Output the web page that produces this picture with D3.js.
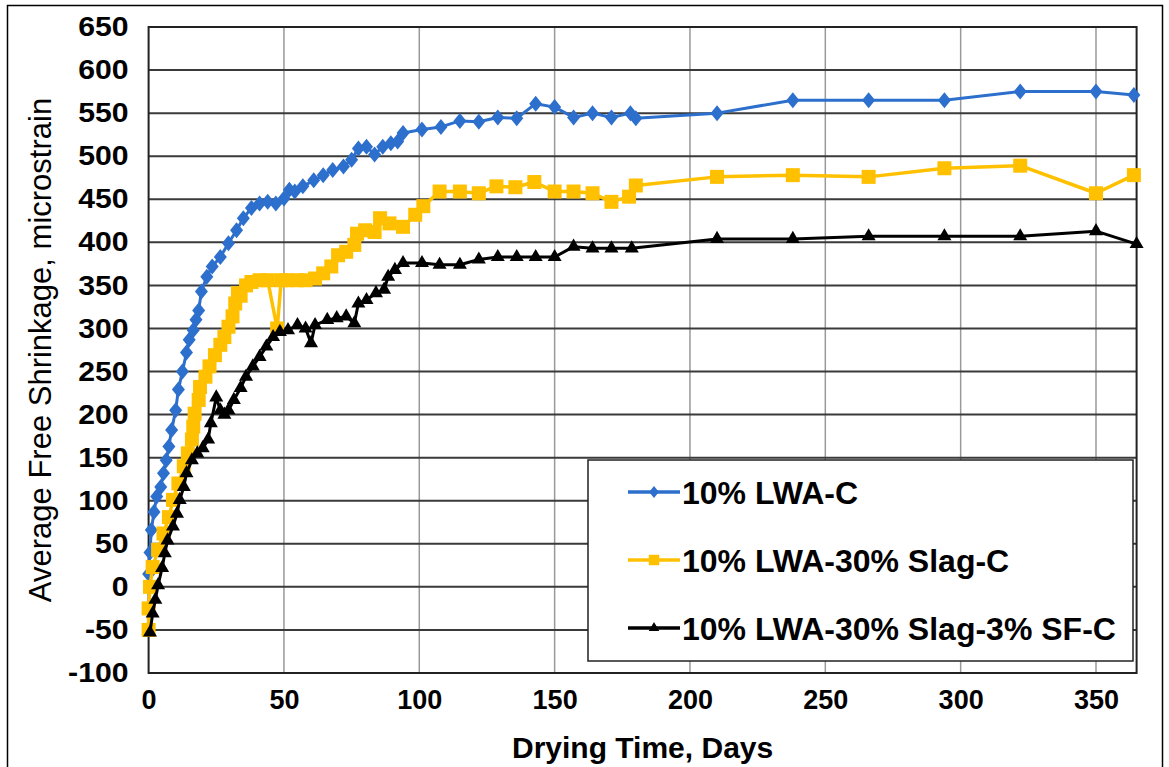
<!DOCTYPE html>
<html>
<head>
<meta charset="utf-8">
<script src="https://cdn.jsdelivr.net/npm/d3@7"></script>
<style>
  body { margin: 0; background: #fff; }
  text { font-family: Arial, "Liberation Sans", sans-serif; }
</style>
</head>
<body>
<svg id="chart" width="1169" height="767"></svg>
<script>
// series data: [day, microstrain]
const lwaC = [
  [0, 15], [0.5, 40], [1, 66], [2, 87], [3, 105], [4.5, 116], [5.5, 132], [6.5, 147],
  [7.5, 163], [8.5, 182], [10, 205], [11, 229], [12.5, 250], [14, 272], [15, 287],
  [16.5, 298], [17.5, 310], [18.5, 321], [19.5, 343], [21.5, 360], [23.5, 372],
  [26.5, 383], [29.5, 399], [32.5, 414], [35, 428], [38, 440], [41, 445], [44, 447],
  [47, 445], [50, 451], [52, 461], [54, 459], [57, 465], [61, 472], [64.5, 478],
  [68, 484], [72, 488], [75, 496], [77.5, 509], [80.5, 511], [83.5, 502], [86.5, 511],
  [89.5, 515], [92, 517], [94, 527], [101, 531], [108, 534], [115, 541], [122, 540],
  [129, 545], [136, 544], [143, 561], [150, 557], [157, 545], [164, 550], [171, 545],
  [178, 550], [180, 544], [210, 550], [238, 565], [266, 565], [294, 565], [322, 575],
  [350, 575], [364, 571]
];

const slagC = [
  [0, -50], [0, -25], [0.5, 0], [1.5, 23], [3.5, 43], [5.5, 62], [7.5, 81], [9, 101],
  [11, 120], [13, 140], [14.5, 155], [16, 171], [16.5, 186], [17, 201], [18.5, 217],
  [19, 232], [21, 244], [22.5, 256], [24.5, 269], [26.5, 281], [28, 290], [29.5, 302],
  [31, 314], [32, 329], [33, 341], [34, 338], [36, 350], [38, 354], [41, 356], [44, 356],
  [47.5, 300], [49, 356], [51, 356], [55, 356], [58, 356], [61.5, 358], [64.5, 364],
  [67.5, 372], [70, 385], [73, 389], [76, 397], [77, 410], [80, 414], [83.5, 412],
  [85.5, 428], [89, 422], [94, 418], [98.5, 432], [101.5, 442], [107.5, 459], [115, 459],
  [122, 457], [128.5, 465], [135.5, 464], [142.5, 470], [150, 459], [157, 459],
  [164, 457], [171, 447], [177.5, 453], [180, 466], [210, 476], [238, 478], [266, 476],
  [294, 486], [322, 489], [350, 457], [364, 478]
];

const sfC = [
  [0.5, -53], [1.5, -31], [2.5, -15], [3.5, 2], [5, 22], [6, 39], [7, 54], [9, 70],
  [10.5, 85], [11.5, 101], [13, 116], [14, 132], [16, 147], [18, 155], [20, 161],
  [22, 171], [23, 190], [25, 220], [26.5, 205], [28, 200], [29.5, 205], [31.5, 217],
  [34, 231], [36, 244], [38.5, 256], [41, 267], [43.5, 279], [46, 290], [48.5, 296],
  [51.5, 298], [55, 304], [58, 300], [60, 283], [61.5, 304], [66, 310], [69.5, 312],
  [73, 314], [76, 306], [77.5, 329], [80.5, 333], [84, 341], [87, 345], [88.5, 360],
  [91, 368], [94, 376], [101, 376], [107.5, 374], [115, 374], [122, 380], [129, 383],
  [136, 383], [143, 383], [150, 383], [157, 395], [164, 393], [171, 393], [178.5, 393],
  [210, 404], [238, 404], [266, 407], [294, 407], [322, 407], [350, 413], [365, 398]
];

const seriesNames = ["10% LWA-C", "10% LWA-30% Slag-C", "10% LWA-30% Slag-3% SF-C"];
const xTicks = [0, 50, 100, 150, 200, 250, 300, 350];
const yTicks = [-100, -50, 0, 50, 100, 150, 200, 250, 300, 350, 400, 450, 500, 550, 600, 650];

const svg = d3.select("#chart");

const plotLeft = 148.6, plotRight = 1136.6, plotTop = 27, plotBottom = 673;

const x = d3.scaleLinear().domain([0, 365]).range([plotLeft, plotRight]);
const y = d3.scaleLinear().domain([-100, 650]).range([plotBottom, plotTop]);

// outer border around the figure
svg.append("rect")
  .attr("x", 7.5).attr("y", 5.5)
  .attr("width", 1155).attr("height", 790)
  .attr("fill", "none").attr("stroke", "#000").attr("stroke-width", 1.5);

// grid
svg.append("g")
  .selectAll("line")
  .data(xTicks.filter(d => d > 0))
  .join("line")
  .attr("x1", d => x(d)).attr("x2", d => x(d))
  .attr("y1", plotTop).attr("y2", plotBottom)
  .attr("stroke", "#999").attr("stroke-width", 1.5);

svg.append("g")
  .selectAll("line")
  .data(yTicks)
  .join("line")
  .attr("x1", plotLeft).attr("x2", plotRight)
  .attr("y1", d => y(d)).attr("y2", d => y(d))
  .attr("stroke", "#3a3a3a").attr("stroke-width", 2);

// plot frame
svg.append("rect")
  .attr("x", plotLeft).attr("y", plotTop)
  .attr("width", plotRight - plotLeft).attr("height", plotBottom - plotTop)
  .attr("fill", "none").attr("stroke", "#222").attr("stroke-width", 2);

// axes via d3 axis, then strip the domain/ticks (plain hyphen for negatives)
const xAxis = svg.append("g")
  .attr("transform", `translate(0,${plotBottom})`)
  .call(d3.axisBottom(x).tickValues(xTicks).tickSize(0).tickPadding(17)
    .tickFormat(d => String(d)));
const yAxis = svg.append("g")
  .attr("transform", `translate(${plotLeft},0)`)
  .call(d3.axisLeft(y).tickValues(yTicks).tickSize(0).tickPadding(20)
    .tickFormat(d => String(d)));

[xAxis, yAxis].forEach(a => a.select(".domain").remove());
xAxis.selectAll("text")
  .attr("font-size", 27).attr("font-weight", "bold").attr("fill", "#000")
  .attr("font-family", "Arial, 'Liberation Sans', sans-serif");
yAxis.selectAll("text")
  .attr("font-size", 27).attr("font-weight", "bold").attr("fill", "#000")
  .attr("font-family", "Arial, 'Liberation Sans', sans-serif")
  .attr("x", -20 / 1.12)
  .attr("transform", "scale(1.12,1)");

// axis titles
svg.append("text")
  .attr("x", (plotLeft + plotRight) / 2).attr("y", 758)
  .attr("text-anchor", "middle")
  .attr("font-size", 30).attr("font-weight", "bold")
  .text("Drying Time, Days");

svg.append("text")
  .attr("transform", `translate(51,${(plotTop + plotBottom) / 2}) rotate(-90)`)
  .attr("text-anchor", "middle")
  .attr("font-size", 31)
  .text("Average Free Shrinkage, microstrain");

// marker shapes
const diamond = "M0,-8L6.5,0L0,8L-6.5,0Z";
const square = "M-7,-7H7V7H-7Z";
const triangle = d3.symbol().type(d3.symbolTriangle).size(85)();

const series = [
  { name: seriesNames[0], data: lwaC, color: "#2D6FCC", marker: diamond, width: 3 },
  { name: seriesNames[1], data: slagC, color: "#FFC000", marker: square, width: 3.5 },
  { name: seriesNames[2], data: sfC, color: "#000000", marker: triangle, width: 3 }
];

const line = d3.line().x(d => x(d[0])).y(d => y(d[1]));

series.forEach(s => {
  const g = svg.append("g");
  g.append("path")
    .datum(s.data)
    .attr("d", line)
    .attr("fill", "none")
    .attr("stroke", s.color)
    .attr("stroke-width", s.width)
    .attr("stroke-linejoin", "round");
  g.selectAll("path.pt")
    .data(s.data)
    .join("path")
    .attr("class", "pt")
    .attr("d", s.marker)
    .attr("transform", d => `translate(${x(d[0])},${y(d[1])})`)
    .attr("fill", s.color);
});

// legend
const legend = svg.append("g");
legend.append("rect")
  .attr("x", 588).attr("y", 460)
  .attr("width", 545).attr("height", 201)
  .attr("fill", "#fff").attr("stroke", "#222").attr("stroke-width", 1.5);

series.forEach((s, i) => {
  const ly = 492 + i * 68;
  legend.append("line")
    .attr("x1", 628).attr("x2", 680)
    .attr("y1", ly).attr("y2", ly)
    .attr("stroke", s.color).attr("stroke-width", 3.5);
  legend.append("path")
    .attr("d", s.marker)
    .attr("transform", `translate(654,${ly}) scale(0.75)`)
    .attr("fill", s.color);
  legend.append("text")
    .attr("x", 682).attr("y", ly)
    .attr("dy", "0.36em")
    .attr("font-size", 32).attr("font-weight", "bold")
    .text(s.name);
});
</script>
</body>
</html>
